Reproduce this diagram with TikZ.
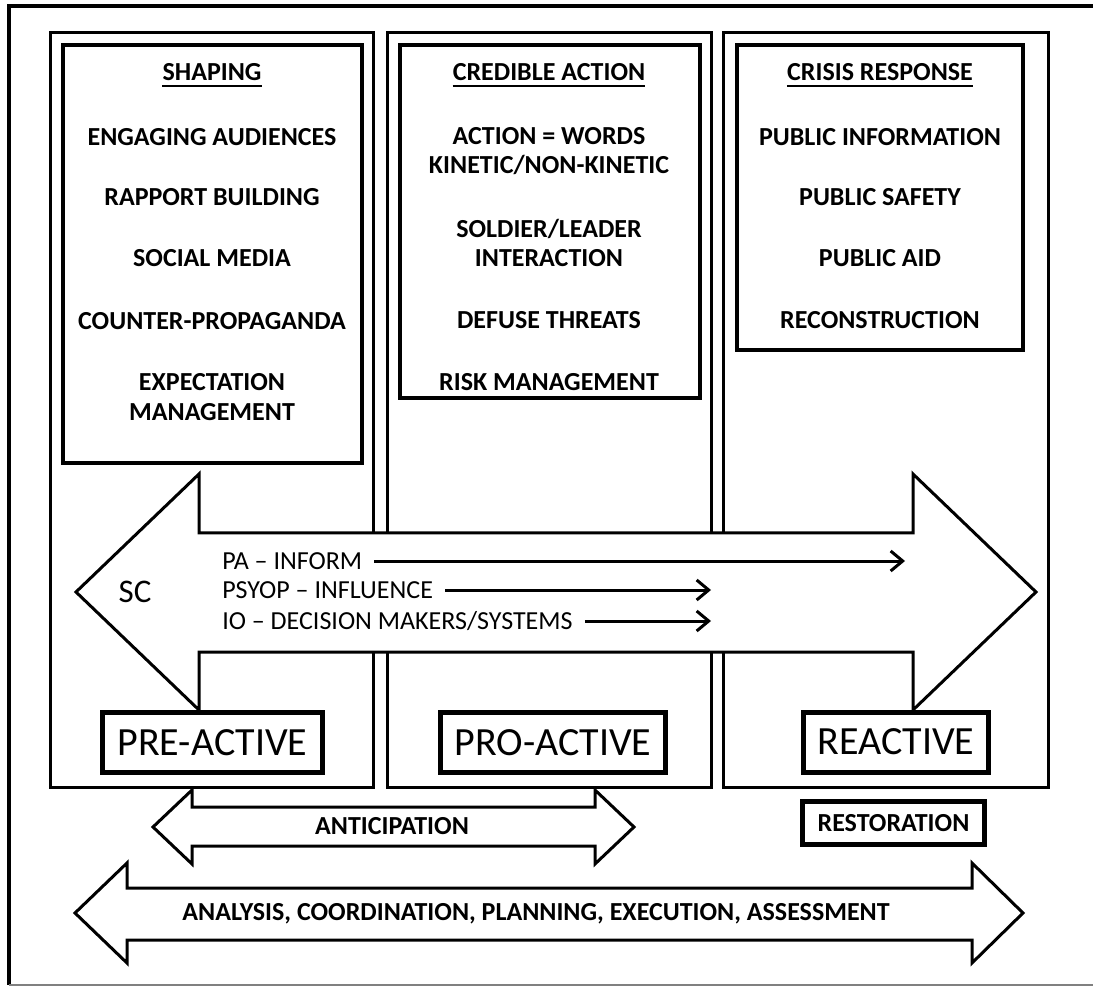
\documentclass[tikz,border=0pt]{standalone}
\usepackage{fontspec}
\setmainfont{Carlito}
\usetikzlibrary{arrows.meta}

\begin{document}
\begin{tikzpicture}[x=0.75pt,y=0.75pt,yscale=-1,xscale=1,
  colbox/.style={line width=2.25pt},
  listbox/.style={line width=3pt},
  blockarrow/.style={draw, line width=2.25pt, fill=white},
  item/.style={font=\fontsize{19.5}{22}\selectfont\bfseries, align=center, inner sep=0pt},
  heading/.style={item},
  uline/.style={line width=1.5pt},
  phase/.style={draw, line width=3.75pt, fill=white, inner sep=0pt, font=\fontsize{30}{32}\selectfont},
  channel/.style={font=\fontsize{19.5}{22}\selectfont, inner sep=0pt, anchor=west},
  flow/.style={line width=2.25pt, shorten <=9pt, -{Straight Barb[length=9pt,width=15pt]}}
]
\useasboundingbox (0,0) rectangle (1093,987);

%Shape: Frame
\draw [line width=3pt] (1093,6) -- (9,6) -- (9,985) ;
\draw [line width=1.2pt, color=gray] (9,985) -- (1093,985) ;

%Shape: Rectangle [columns]
\draw [colbox] (50,33) rectangle (373,787) ;
\draw [colbox] (387,33) rectangle (711,787) ;
\draw [colbox] (723,33) rectangle (1048,787) ;

%Shape: Rectangle [lists]
\draw [listbox] (63,45) rectangle (362,463) ;
\draw [listbox] (400,45) rectangle (700,398) ;
\draw [listbox] (737,45) rectangle (1023,350) ;

% Text Node
\node [heading] (shaping) at (212,72) {SHAPING};
\draw [uline] ([yshift=4pt]shaping.south west) -- ([yshift=4pt]shaping.south east) ;
\node [item] (engaging) at (212,137) {ENGAGING AUDIENCES};
\node [item] (rapport) at (212,197) {RAPPORT BUILDING};
\node [item] (social) at (212,258) {SOCIAL MEDIA};
\node [item] (counter) at (212,321) {COUNTER-PROPAGANDA};
\node [item] (expectation) at (212,397) {EXPECTATION\\MANAGEMENT};

% Text Node
\node [heading] (credible) at (549,72) {CREDIBLE ACTION};
\draw [uline] ([yshift=4pt]credible.south west) -- ([yshift=4pt]credible.south east) ;
\node [item] (words) at (549,151) {ACTION = WORDS\\KINETIC/NON-KINETIC};
\node [item] (soldier) at (549,243) {SOLDIER/LEADER\\INTERACTION};
\node [item] (defuse) at (549,320) {DEFUSE THREATS};
\node [item] (risk) at (549,382) {RISK MANAGEMENT};

% Text Node
\node [heading] (crisis) at (880,72) {CRISIS RESPONSE};
\draw [uline] ([yshift=4pt]crisis.south west) -- ([yshift=4pt]crisis.south east) ;
\node [item] (pubinfo) at (880,137) {PUBLIC INFORMATION};
\node [item] (pubsafety) at (880,197) {PUBLIC SAFETY};
\node [item] (pubaid) at (880,258) {PUBLIC AID};
\node [item] (reconstruction) at (880,320) {RECONSTRUCTION};

%Shape: Left-Right Arrow [SC]
\draw [blockarrow] (76,592) -- (199,474) -- (199,533) -- (913,533) -- (913,474) -- (1036,592) -- (913,710) -- (913,652) -- (199,652) -- (199,710) -- cycle ;

% Text Node
\node [font=\fontsize{24.75}{26}\selectfont] (sc) at (135,592) {SC};
\node [channel] (pa) at (222,561) {PA – INFORM};
\node [channel] (psyop) at (222,590) {PSYOP – INFLUENCE};
\node [channel] (io) at (222,621) {IO – DECISION MAKERS/SYSTEMS};

%Straight Lines
\coordinate (paend) at (905,561);
\coordinate (psyopend) at (711,590);
\coordinate (ioend) at (711,621);
\draw [flow] (pa.east) -- (paend) ;
\draw [flow] (psyop.east) -- (psyopend) ;
\draw [flow] (io.east) -- (ioend) ;

%Shape: Rectangle [phases]
\node [phase, minimum width=165pt, minimum height=45pt] (preactive) at (212.5,742.5) {PRE-ACTIVE};
\node [phase, minimum width=168.75pt, minimum height=45pt] (proactive) at (553,742.5) {PRO-ACTIVE};
\node [phase, minimum width=138.75pt, minimum height=45pt] (reactive) at (896,742) {REACTIVE};

%Shape: Left-Right Arrow [anticipation]
\draw [blockarrow] (153,827) -- (192,790) -- (192,807) -- (595,807) -- (595,790) -- (634,827) -- (595,864) -- (595,846) -- (192,846) -- (192,864) -- cycle ;
\node [item] (anticipation) at (392,826) {ANTICIPATION};

%Shape: Rectangle [restoration]
\node [phase, font=\fontsize{19.5}{22}\selectfont\bfseries, minimum width=136.5pt, minimum height=32.25pt] (restoration) at (893.5,823) {RESTORATION};

%Shape: Left-Right Arrow [cycle]
\draw [blockarrow] (75,913) -- (127,863) -- (127,888) -- (972,888) -- (972,863) -- (1023,913) -- (972,963) -- (972,940) -- (127,940) -- (127,963) -- cycle ;
\node [item] (analysis) at (536,914) {ANALYSIS, COORDINATION, PLANNING, EXECUTION, ASSESSMENT};

\end{tikzpicture}
\end{document}
